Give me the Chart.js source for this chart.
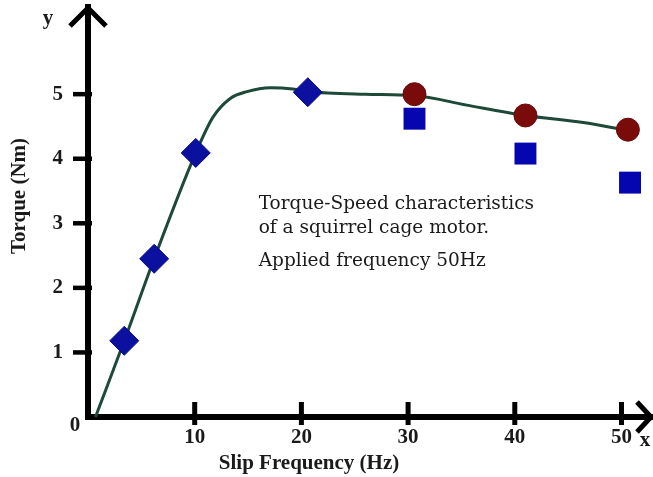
<!DOCTYPE html>
<html>
<head>
<meta charset="utf-8">
<script src="https://cdn.jsdelivr.net/npm/chart.js@4"></script>
<style>
html,body{margin:0;padding:0;background:#fff;}
#wrap{width:653px;height:477px;position:relative;}
</style>
</head>
<body>
<div id="wrap"><canvas id="c" width="653" height="477"></canvas></div>
<script>
// ---- data ----
const curveX = [0.7, 3.4, 6.2, 10.1, 11.7, 13.3, 14.9, 17.1, 19.2, 20.6, 26.0, 30.6, 35.5, 41.0, 46.4, 50.6];
const curveY = [0, 1.18, 2.45, 4.09, 4.64, 4.93, 5.04, 5.10, 5.08, 5.04, 5.00, 4.98, 4.83, 4.67, 4.56, 4.44];
const diamondX = [3.4, 6.2, 10.1, 20.6];
const diamondY = [1.18, 2.45, 4.09, 5.03];
const circleX = [30.6, 41.0, 50.6];
const circleY = [5.00, 4.67, 4.45];
const squareX = [30.6, 41.0, 50.8];
const squareY = [4.62, 4.08, 3.63];
const xTicks = [10, 20, 30, 40, 50];
const yTicks = [1, 2, 3, 4, 5];
const xTitle = 'Slip Frequency (Hz)';
const yTitle = 'Torque (Nm)';
const noteLines = ['Torque-Speed characteristics', 'of a squirrel cage motor.', '', 'Applied frequency 50Hz'];

const pts = (xs, ys) => xs.map((x, i) => ({x: x, y: ys[i]}));
const SERIF = '"Liberation Serif", "DejaVu Serif", serif';
const BOLD = 'bold 21px ' + SERIF;

const deco = {
  id: 'deco',
  afterDraw(chart) {
    const ctx = chart.ctx;
    const xs = chart.scales.x, ys = chart.scales.y;
    const ca = chart.chartArea;
    const ox = xs.getPixelForValue(0), oy = ys.getPixelForValue(0);
    ctx.save();
    ctx.strokeStyle = '#000';
    ctx.lineCap = 'butt';
    // y tick marks
    ctx.lineWidth = 4.5;
    yTicks.forEach(v => {
      const py = ys.getPixelForValue(v);
      ctx.beginPath(); ctx.moveTo(ox - 15, py); ctx.lineTo(ox + 4, py); ctx.stroke();
    });
    // x tick marks
    ctx.lineWidth = 5;
    xTicks.forEach(v => {
      const px = xs.getPixelForValue(v);
      ctx.beginPath(); ctx.moveTo(px, oy - 15); ctx.lineTo(px, oy + 8); ctx.stroke();
    });
    // arrows
    ctx.lineWidth = 5;
    ctx.lineJoin = 'miter';
    ctx.beginPath();
    ctx.moveTo(ox - 18, ca.top + 19); ctx.lineTo(ox, ca.top + 1); ctx.lineTo(ox + 18, ca.top + 19);
    ctx.stroke();
    ctx.beginPath();
    ctx.moveTo(ca.right - 15, oy - 15); ctx.lineTo(ca.right - 1, oy); ctx.lineTo(ca.right - 15, oy + 15);
    ctx.stroke();
    // texts
    ctx.fillStyle = '#1a1a1a';
    ctx.font = BOLD;
    ctx.textAlign = 'center'; ctx.textBaseline = 'middle';
    ctx.fillText('0', ox - 13, oy + 9);
    ctx.fillText('y', ox - 40, ca.top + 12);
    ctx.fillText('x', ca.right - 7, oy + 24);
    ctx.fillText(xTitle, ox + 221, oy + 47);
    ctx.save();
    ctx.translate(20, oy - 221);
    ctx.rotate(-Math.PI / 2);
    ctx.fillText(yTitle, 0, 0);
    ctx.restore();
    // annotation
    ctx.font = '18.5px "DejaVu Serif", "Liberation Serif", serif';
    ctx.textAlign = 'left'; ctx.textBaseline = 'alphabetic';
    const nx = xs.getPixelForValue(16.0);
    let ny = ys.getPixelForValue(3.22);
    const gaps = [0, 24, 16, 17];
    noteLines.forEach((t, i) => {
      ny += gaps[i];
      if (t) ctx.fillText(t, nx, ny);
    });
    ctx.restore();
  }
};

const tickFont = { family: SERIF, size: 21, weight: 'bold' };

new Chart(document.getElementById('c'), {
  type: 'scatter',
  data: {
    datasets: [
      { label: 'diamonds', data: pts(diamondX, diamondY), pointStyle: 'rectRot', pointRadius: 14.5,
        backgroundColor: '#0b109f', borderColor: '#0a0e8a', borderWidth: 1, order: 1 },
      { label: 'circles', data: pts(circleX, circleY), pointStyle: 'circle', pointRadius: 11.5,
        backgroundColor: '#7a0b0b', borderColor: '#6a0a0a', borderWidth: 1, order: 1 },
      { label: 'squares', data: pts(squareX, squareY), pointStyle: 'rect', pointRadius: 15.5,
        backgroundColor: '#0606b0', borderColor: '#0606b0', borderWidth: 0, order: 1 },
      { label: 'curve', data: pts(curveX, curveY), showLine: true, pointRadius: 0,
        borderColor: '#1d4a38', borderWidth: 3, cubicInterpolationMode: 'monotone', fill: false, order: 5 }
    ]
  },
  options: {
    responsive: false,
    animation: false,
    clip: false,
    layout: { autoPadding: false, padding: { top: 7, right: 1, left: 0, bottom: 0 } },
    plugins: { legend: { display: false }, tooltip: { enabled: false } },
    scales: {
      x: {
        type: 'linear', min: 0, max: 52.86,
        afterBuildTicks: s => { s.ticks = xTicks.map(v => ({value: v})); },
        afterFit: s => { s.height = 60; s.paddingLeft = 0; s.paddingRight = 0; },
        grid: { display: false, drawTicks: false },
        border: { display: true, color: '#000', width: 6 },
        ticks: { padding: 8, color: '#1a1a1a', font: tickFont }
      },
      y: {
        type: 'linear', min: 0, max: 6.35,
        afterBuildTicks: s => { s.ticks = yTicks.map(v => ({value: v})); },
        afterFit: s => { s.width = 88; s.paddingTop = 0; s.paddingBottom = 0; },
        grid: { display: false, drawTicks: false },
        border: { display: true, color: '#000', width: 6 },
        ticks: { padding: 25, color: '#1a1a1a', font: tickFont }
      }
    }
  },
  plugins: [deco]
});
</script>
</body>
</html>
